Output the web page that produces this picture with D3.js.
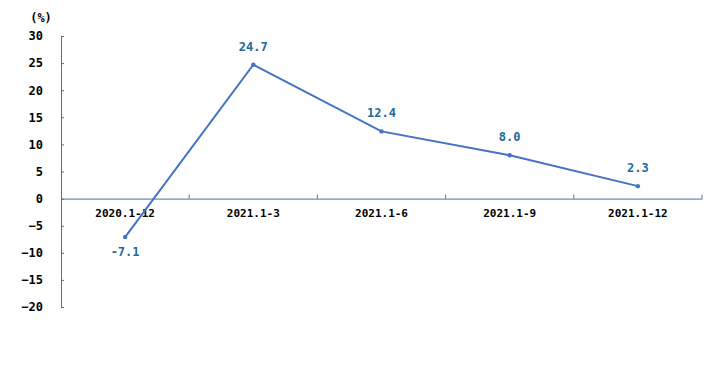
<!DOCTYPE html>
<html>
<head>
<meta charset="utf-8">
<script src="https://cdn.jsdelivr.net/npm/d3@7"></script>
<style>
  body { margin: 0; background: #fff; }
  svg { display: block; }
</style>
</head>
<body>
<svg id="chart" width="714" height="383"></svg>
<script>
// chart data
var periods = ["2020.1-12", "2021.1-3", "2021.1-6", "2021.1-9", "2021.1-12"];
var growth = [-7.1, 24.7, 12.4, 8.0, 2.3];
var yTicks = [30, 25, 20, 15, 10, 5, 0, -5, -10, -15, -20];

var svg = d3.select("#chart");
var plotLeft = 61, plotRight = 702, plotTop = 36, plotBottom = 307;
var axisColor = "#4a6fa8";
var lineColor = "#4472c4";
var labelColor = "#1a6c9a";
var monoFont = "'DejaVu Sans Mono', monospace";

var x = d3.scaleBand().domain(periods).range([plotLeft, plotRight]);
var y = d3.scaleLinear().domain([-20, 30]).range([plotBottom, plotTop]);

// y axis
var yAxis = d3.axisLeft(y).tickValues(yTicks).tickSizeInner(-3).tickSizeOuter(0).tickPadding(18);
var gy = svg.append("g").attr("transform", "translate(" + plotLeft + ",0)").call(yAxis);
gy.select(".domain").attr("stroke", axisColor);
gy.selectAll(".tick line").attr("stroke", axisColor);
gy.selectAll(".tick text")
    .attr("fill", "#000")
    .attr("font-family", monoFont)
    .attr("font-weight", "bold")
    .attr("font-size", "12px");

// x axis at zero
var xAxis = d3.axisBottom(x).tickSize(0).tickPadding(11);
var gx = svg.append("g").attr("transform", "translate(0," + y(0) + ")").call(xAxis);
gx.select(".domain").attr("stroke", axisColor);
gx.selectAll(".tick text")
    .attr("fill", "#000")
    .attr("font-family", monoFont)
    .attr("font-weight", "bold")
    .attr("font-size", "11px");

// category separators, pointing up
var edges = periods.map(function(p) { return x(p) + x.bandwidth(); });
svg.selectAll(".sep")
    .data(edges)
    .enter()
    .append("line")
    .attr("x1", function(d) { return d; })
    .attr("x2", function(d) { return d; })
    .attr("y1", y(0))
    .attr("y2", y(0) - 4)
    .attr("stroke", axisColor);

// unit label
svg.append("text")
    .attr("x", 41)
    .attr("y", 22)
    .attr("text-anchor", "middle")
    .attr("font-family", monoFont)
    .attr("font-weight", "bold")
    .attr("font-size", "12px")
    .attr("fill", "#000")
    .text("(%)");

var cx = function(d, i) { return x(periods[i]) + x.bandwidth() / 2; };

// line
var line = d3.line()
    .x(function(d, i) { return cx(d, i); })
    .y(function(d) { return y(d); });

svg.append("path")
    .datum(growth)
    .attr("d", line)
    .attr("fill", "none")
    .attr("stroke", lineColor)
    .attr("stroke-width", 2);

svg.selectAll(".pt")
    .data(growth)
    .enter()
    .append("circle")
    .attr("cx", cx)
    .attr("cy", function(d) { return y(d); })
    .attr("r", 2.2)
    .attr("fill", lineColor);

// value labels
svg.selectAll(".val")
    .data(growth)
    .enter()
    .append("text")
    .attr("x", cx)
    .attr("y", function(d) { return d < 0 ? y(d) + 19 : y(d) - 14; })
    .attr("text-anchor", "middle")
    .attr("font-family", monoFont)
    .attr("font-weight", "bold")
    .attr("font-size", "12px")
    .attr("fill", labelColor)
    .text(function(d) { return d.toFixed(1); });
</script>
</body>
</html>
